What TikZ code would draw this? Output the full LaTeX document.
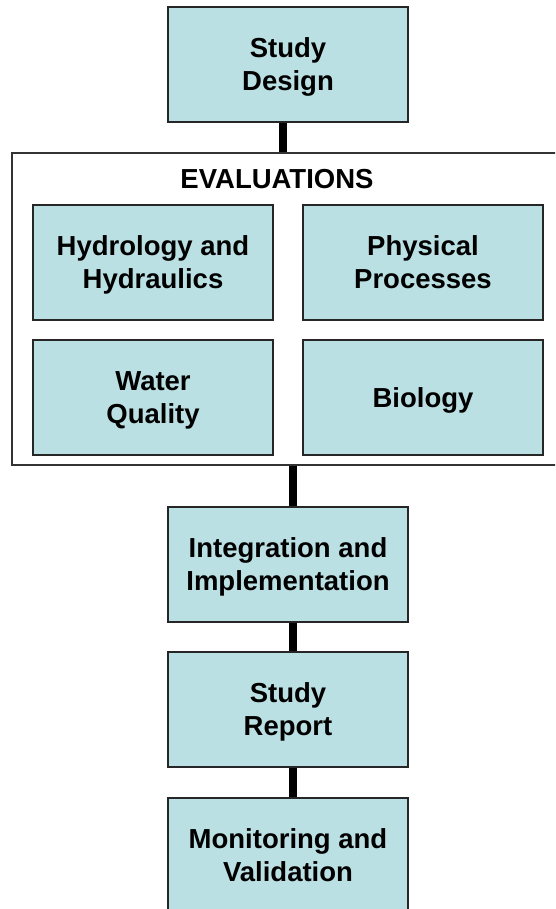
\documentclass[tikz,border=0pt]{standalone}
\usepackage{fontspec}
\setmainfont{Liberation Sans}
\definecolor{boxblue}{RGB}{187,224,227}
\tikzset{
  stage/.style={draw=black!85, line width=1.3pt, fill=boxblue, minimum width=240pt,
    minimum height=115pt, align=center, inner sep=0pt, text depth=0pt,
    font=\fontsize{27.5}{33}\selectfont\bfseries},
  frame/.style={draw=black!80, line width=1.5pt, minimum width=548pt,
    minimum height=312pt, inner sep=0pt},
  link/.style={line width=8pt, black}
}
\begin{document}
\begin{tikzpicture}[x=1pt,y=-1pt]
\useasboundingbox (0,0) rectangle (555,909);
\clip (0,0) rectangle (555,909);

\node[frame] (eval) at (286,309) {};
\node[font=\fontsize{27.5}{33}\selectfont\bfseries] (evaltitle) at (277,179) {EVALUATIONS};

\node[stage] (design) at (288,64.5) {Study\\Design};

\node[stage] (hydro) at (153,262.5) {Hydrology and\\Hydraulics};
\node[stage] (phys) at (423,262.5) {Physical\\Processes};
\node[stage] (water) at (153,397.5) {Water\\Quality};
\node[stage] (bio) at (423,397.5) {Biology};

\node[stage] (integ) at (288,564.5) {Integration and\\Implementation};
\node[stage] (report) at (288,709.5) {Study\\Report};
\node[stage] (monitor) at (288,855.5) {Monitoring and\\Validation};

\draw[link] ([xshift=-5pt]design.south) -- ([xshift=-5pt]design.south |- eval.north);
\draw[link] ([xshift=5pt]integ.north |- eval.south) -- ([xshift=5pt]integ.north);
\draw[link] ([xshift=5pt]integ.south) -- ([xshift=5pt]report.north);
\draw[link] ([xshift=5pt]report.south) -- ([xshift=5pt]monitor.north);
\end{tikzpicture}
\end{document}
